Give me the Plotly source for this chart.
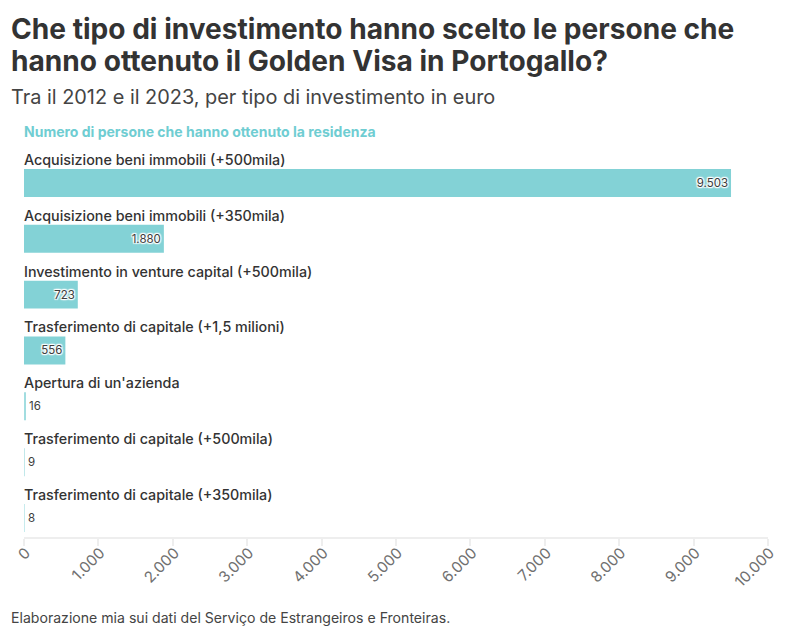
import plotly.graph_objects as go

categories = [
    "Acquisizione beni immobili (+500mila)",
    "Acquisizione beni immobili (+350mila)",
    "Investimento in venture capital (+500mila)",
    "Trasferimento di capitale (+1,5 milioni)",
    "Apertura di un'azienda",
    "Trasferimento di capitale (+500mila)",
    "Trasferimento di capitale (+350mila)",
]
persone = [9503, 1880, 723, 556, 16, 9, 8]
x_ticks = [0, 1000, 2000, 3000, 4000, 5000, 6000, 7000, 8000, 9000, 10000]
title_lines = [
    "Che tipo di investimento hanno scelto le persone che",
    "hanno ottenuto il Golden Visa in Portogallo?",
]

FONT = "Inter"
TEAL = "#83d2d6"
HALO = ("1px 1px 1px #fff, -1px -1px 1px #fff, 1px -1px 1px #fff, -1px 1px 1px #fff, "
        "0 0 2px #fff, 0 0 3px #fff")

fig = go.Figure()
fig.add_trace(go.Bar(
    x=persone,
    y=categories,
    orientation="h",
    # le barre piu' sottili di un pixel risultano sfumate
    marker=dict(color=TEAL, line_width=0, opacity=[1, 1, 1, 1, 0.75, 0.5, 0.45]),
    texttemplate="%{x:,}",
    textposition=["inside" if v > 100 else "outside" for v in persone],
    insidetextanchor="end",
    constraintext="none",
    cliponaxis=False,
    textfont=dict(family="Inter", size=11.5, color="#3c3c3c", shadow=HALO),
))

# etichette sopra ogni barra
for cat in categories:
    fig.add_annotation(
        x=0, xref="x", xanchor="left", xshift=-2,
        y=cat, yref="y", yanchor="bottom", yshift=13,
        text=cat, showarrow=False,
        font=dict(family=FONT, size=14.3, color="#333333", weight=500),
    )

# il layout e' 786x629 perche' la pagina aggiunge 8px di margine
for line, shift in zip(title_lines, [126, 94]):
    fig.add_annotation(
        x=0, xref="paper", xanchor="left", xshift=-15,
        y=1, yref="paper", yanchor="middle", yshift=shift, showarrow=False,
        text=f"<b>{line}</b>",
        font=dict(family=FONT, size=28.1, color="#333333"),
    )
fig.add_annotation(
    x=0, xref="paper", xanchor="left", xshift=-2,
    y=1, yref="paper", yanchor="middle", yshift=24, showarrow=False,
    text="Numero di persone che hanno ottenuto la residenza",
    font=dict(family=FONT, size=14, color="#6fcdd2", weight=700),
)
fig.add_annotation(
    x=0, xref="paper", xanchor="left", xshift=-15,
    y=1, yref="paper", yanchor="middle", yshift=58, showarrow=False,
    text="Tra il 2012 e il 2023, per tipo di investimento in euro",
    font=dict(family=FONT, size=19.9, color="#444444"),
)
fig.add_annotation(
    x=0, xref="paper", xanchor="left", xshift=-15,
    y=0, yref="paper", yanchor="middle", yshift=-81, showarrow=False,
    text="Elaborazione mia sui dati del Serviço de Estrangeiros e Fronteiras.",
    font=dict(family=FONT, size=14.1, color="#444444"),
)

fig.update_layout(
    width=786,
    height=629,
    autosize=False,
    separators=",.",
    showlegend=False,
    paper_bgcolor="white",
    plot_bgcolor="white",
    bargap=0.5,
    margin=dict(l=16, r=26, t=147, b=100, autoexpand=False),
    xaxis=dict(
        range=[0, 10000],
        tickvals=x_ticks,
        tickformat=",",
        tickangle=-45,
        ticks="outside",
        ticklen=7,
        tickwidth=2,
        tickcolor="#eeeeee",
        ticklabelstandoff=-8,
        ticklabelshift=2,
        showline=True,
        linecolor="#eeeeee",
        linewidth=2,
        showgrid=False,
        zeroline=False,
        tickfont=dict(family=FONT, size=15.2, color="#707070"),
    ),
    yaxis=dict(
        type="category",
        categoryorder="array",
        categoryarray=categories,
        range=[6.34, -0.5],
        showticklabels=False,
        showgrid=False,
        zeroline=False,
        ticks="",
    ),
)

fig.write_html("out.html")
